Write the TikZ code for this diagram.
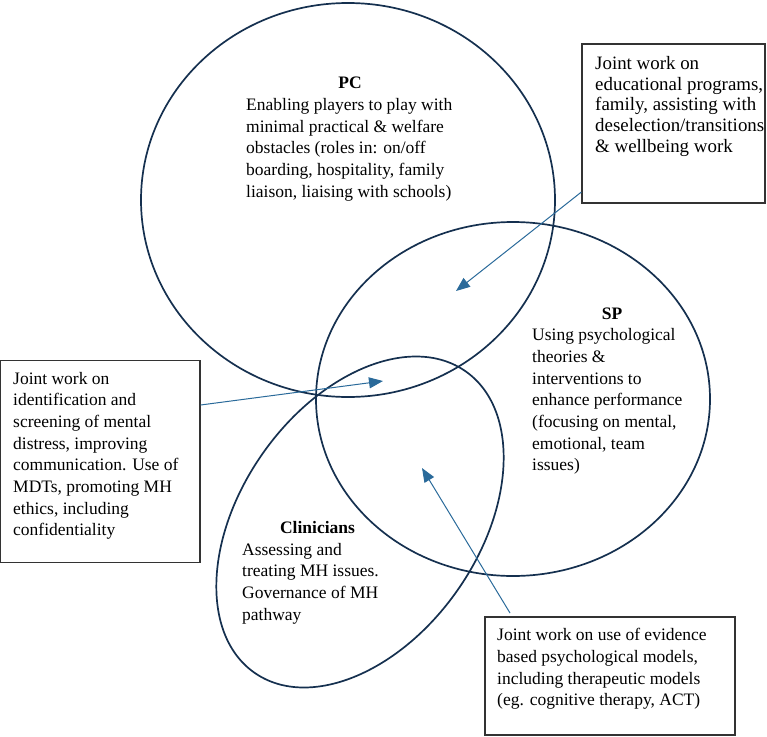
\documentclass[tikz,border=0pt]{standalone}
\usepackage{fontspec}
\setmainfont{Liberation Serif}
\usetikzlibrary{shapes.geometric,arrows.meta}
\definecolor{ringc}{HTML}{15304F}
\definecolor{arrc}{HTML}{2A6A9A}
\definecolor{boxc}{HTML}{333333}
\tikzset{
  ring/.style={ellipse, draw=ringc, line width=1.7pt, inner sep=0pt},
  jbox/.style={rectangle, draw=boxc, line width=1.2pt, inner sep=0pt},
  body/.style={anchor=base west, align=left, inner sep=0pt, font=\fontsize{17.5}{21.7}\selectfont},
  ttl/.style={anchor=base, inner sep=0pt, font=\fontsize{17.5}{21.7}\selectfont\bfseries},
  link/.style={draw=arrc, line width=1pt, -{Triangle[length=14pt,width=11pt]}}
}
\begin{document}
\begin{tikzpicture}[x=1pt,y=-1pt]
\useasboundingbox (0,0) rectangle (767,736);
% circles
\node[ring, minimum width=414pt, minimum height=394pt] (pc) at (348,200) {};
\node[ring, minimum width=394pt, minimum height=354pt] (sp) at (513,399) {};
\node[ring, rotate=55, minimum width=368pt, minimum height=238pt] (cl) at (360,522) {};
% circle texts (body nodes anchored at the baseline of their last line)
\node[ttl] (pct) at (350,88) {PC};
\node[body] (pcb) at (246,197.3) {Enabling players to play with\\minimal practical \& welfare\\obstacles (roles in: on/off\\boarding, hospitality, family\\liaison, liaising with schools)};
\node[ttl] (spt) at (612,319) {SP};
\node[body] (spb) at (532,470.9) {Using psychological\\theories \&\\interventions to\\enhance performance\\(focusing on mental,\\emotional, team\\issues)};
\node[ttl] (clt) at (317.5,533) {Clinicians};
\node[body] (clb) at (242,620.1) {Assessing and\\treating MH issues.\\Governance of MH\\pathway};
% boxes
\node[jbox, minimum width=183pt, minimum height=159pt] (trbox) at (673.5,123.5) {};
\node[body, font=\fontsize{18.9}{20.8}\selectfont] (trtxt) at (595,152.5) {Joint work on\\educational programs,\\family, assisting with\\deselection/transitions\\\& wellbeing work};
\node[jbox, minimum width=199.5pt, minimum height=202pt] (lbox) at (100.25,360) [anchor=north] {};
\node[body] (ltxt) at (13,535.9) {Joint work on\\identification and\\screening of mental\\distress, improving\\communication. Use of\\MDTs, promoting MH\\ethics, including\\confidentiality};
\node[jbox, minimum width=250pt, minimum height=118pt] (bbox) at (610,676) {};
\node[body] (btxt) at (497,705.8) {Joint work on use of evidence\\based psychological models,\\including therapeutic models\\(eg. cognitive therapy, ACT)};
% connectors
\coordinate (a1s) at (trbox.west |- 0,192);
\coordinate (a1e) at (456,291);
\coordinate (a2s) at (lbox.east |- 0,405);
\coordinate (a2e) at (383,381);
\coordinate (a3s) at (510,613);
\coordinate (a3e) at (422,468);
\draw[link] (a1s) -- (a1e);
\draw[link] (a2s) -- (a2e);
\draw[link] (a3s) -- (a3e);
\end{tikzpicture}
\end{document}
